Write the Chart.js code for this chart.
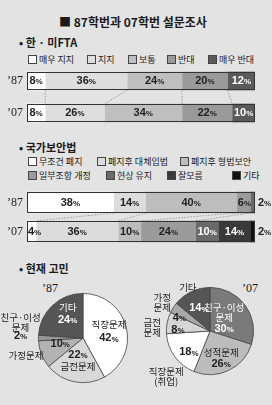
<!DOCTYPE html>
<html>
<head>
<meta charset="utf-8">
<script src="https://cdn.jsdelivr.net/npm/chart.js@4.4.0/dist/chart.umd.min.js"></script>
<style>
  body {
    margin: 0;
    width: 272px;
    height: 405px;
    background: #e3e3e3;
    font-family: "Noto Sans CJK KR", "Noto Sans", sans-serif;
    color: #1a1a1a;
    position: relative;
    overflow: hidden;
  }
  .txt { position: absolute; white-space: nowrap; }
  .title { font-size: 12px; line-height: 12px; font-weight: bold; }
  .head { font-size: 11px; line-height: 11px; font-weight: bold; }
  .yr { font-size: 12px; line-height: 12px; font-family: "Liberation Serif", serif; }
  .lg { position: absolute; font-size: 9px; line-height: 10px; white-space: nowrap; }
  .lg i { display: inline-block; width: 7px; height: 7px; border: 1px solid #444; margin-right: 2px; vertical-align: -1px; }
  .box { position: absolute; }
</style>
</head>
<body>
<div class="txt title" style="left:59px;top:16px;">■ 87학번과 07학번 설문조사</div>
<div class="txt head" style="left:19px;top:37px;">• 한 · 미FTA</div>
<div class="txt head" style="left:19px;top:142px;">• 국가보안법</div>
<div class="txt head" style="left:19px;top:263px;">• 현재 고민</div>
<div class="txt yr" style="left:42px;top:282px;">’87</div>
<div class="txt yr" style="left:242px;top:282px;">’07</div>
<div id="legends"></div>

<div class="box" style="left:0;top:65px;width:272px;height:64px;"><canvas id="ftaChart"></canvas></div>
<div class="box" style="left:0;top:188px;width:272px;height:58px;"><canvas id="nslChart"></canvas></div>
<div class="box" style="left:0;top:280px;width:136px;height:125px;"><canvas id="pie87"></canvas></div>
<div class="box" style="left:136px;top:280px;width:136px;height:125px;"><canvas id="pie07"></canvas></div>

<script>
// ---- data ----
const years = ['’87', '’07'];

const ftaCategories = ['매우 지지', '지지', '보통', '반대', '매우 반대'];
const fta87 = [8, 36, 24, 20, 12];
const fta07 = [8, 26, 34, 22, 10];

const nslCategories = ['무조건 폐지', '폐지후 대체입법', '폐지후 형법보안', '일부조항 개정', '현상 유지', '잘모름', '기타'];
const nsl87 = [38, 14, 40, 6, 2, 0, 0];
const nsl07 = [4, 36, 10, 24, 10, 14, 2];

const worryCats87 = ['직장문제', '금전문제', '가정문제', '친구·이성\n문제', '기타'];
const worry87 = [42, 22, 10, 2, 24];
const worryCats07 = ['친구·이성\n문제', '성적문제', '직장문제\n(취업)', '금전\n문제', '가정\n문제', '기타'];
const worry07 = [30, 26, 18, 8, 4, 14];

// ---- styles ----
const ftaColors = ['#ffffff', '#dedede', '#bfbfbf', '#9a9a9a', '#5a5a5a'];
const ftaText = ['#222', '#222', '#222', '#222', '#fff'];
const nslColors = ['#ffffff', '#dcdcdc', '#bdbdbd', '#9b9b9b', '#6a6a6a', '#3a3a3a', '#101010'];
const nslText = ['#222', '#222', '#222', '#222', '#fff', '#fff', '#fff'];
const pieColors87 = ['#ffffff', '#d9d9d9', '#b3b3b3', '#999999', '#555555'];
const pieColors07 = ['#7a7a7a', '#bcbcbc', '#ffffff', '#d6d6d6', '#a8a8a8', '#555555'];

const ftaLegendPos = [[28, 55], [87, 55], [128, 55], [167, 55], [208, 55]];
const nslLegendPos = [[28, 157], [97, 157], [180, 157], [28, 171], [106, 171], [167, 171], [232, 171]];

// HTML legends
const legendBox = document.getElementById('legends');
function addLegend(cats, colors, pos) {
    cats.forEach(function(c, i) {
        const d = document.createElement('div');
        d.className = 'lg';
        d.style.left = pos[i][0] + 'px';
        d.style.top = pos[i][1] + 'px';
        d.innerHTML = '<i style="background:' + colors[i] + '"></i>' + c;
        legendBox.appendChild(d);
    });
}
addLegend(ftaCategories, ftaColors, ftaLegendPos);
addLegend(nslCategories, nslColors, nslLegendPos);

const numFont = function(px) { return 'bold ' + px + 'px "Liberation Sans", Arial, sans-serif'; };

function pctWidth(ctx, v, big, small) {
    ctx.font = numFont(big);
    const w1 = ctx.measureText(String(v)).width;
    ctx.font = numFont(small);
    return w1 + ctx.measureText('%').width;
}

// number with a smaller % sign, centred on (cx, cy) or starting at cx
function drawPct(ctx, v, cx, cy, color, align, big, small) {
    const num = String(v);
    ctx.font = numFont(big);
    const w1 = ctx.measureText(num).width;
    const x = align === 'left' ? cx : cx - pctWidth(ctx, v, big, small) / 2;
    ctx.fillStyle = color;
    ctx.textBaseline = 'middle';
    ctx.textAlign = 'left';
    ctx.font = numFont(big);
    ctx.fillText(num, x, cy);
    ctx.font = numFont(small);
    ctx.fillText('%', x + w1, cy + 1);
}

// labels, outline and dotted connectors for the stacked bars
const barDecor = {
    id: 'barDecor',
    afterDatasetsDraw(chart, args, opts) {
        const ctx = chart.ctx;
        const xs = chart.scales.x;
        const metas = chart.data.datasets.map(function(d, i) { return chart.getDatasetMeta(i); });
        const n = metas.length;
        ctx.save();
        // connectors between boundaries
        ctx.strokeStyle = '#8c8c8c';
        ctx.lineWidth = 0.8;
        ctx.setLineDash([1.5, 1.5]);
        for (let i = 0; i < n - 1; i++) {
            const a = metas[i].data[0], b = metas[i].data[1];
            if (a.x >= xs.right - 0.5 || b.x >= xs.right - 0.5) continue;
            ctx.beginPath();
            ctx.moveTo(a.x, a.y + a.height / 2);
            ctx.lineTo(b.x, b.y - b.height / 2);
            ctx.stroke();
        }
        ctx.setLineDash([]);
        // outline round each bar
        ctx.strokeStyle = '#333';
        ctx.lineWidth = 1;
        metas[0].data.forEach(function(e) {
            ctx.strokeRect(xs.left + 0.5, e.y - e.height / 2 + 0.5, xs.right - xs.left - 1, e.height - 1);
        });
        // value labels
        metas.forEach(function(m, i) {
            m.data.forEach(function(e, j) {
                const v = chart.data.datasets[i].data[j];
                if (!v) return;
                const segW = Math.abs(e.x - e.base);
                if (v < 4) {
                    drawPct(ctx, v, xs.right + 3, e.y, '#222', 'left', 11, 8);
                } else if (segW < pctWidth(ctx, v, 11, 8) + 2) {
                    drawPct(ctx, v, Math.min(e.x, e.base) + 1, e.y, opts.textColors[i], 'left', 11, 8);
                } else {
                    drawPct(ctx, v, (e.x + e.base) / 2, e.y, opts.textColors[i], 'center', 11, 8);
                }
            });
        });
        ctx.restore();
    }
};

function stackedBar(id, cats, v87, v07, colors, textColors, thickness) {
    new Chart(document.getElementById(id).getContext('2d'), {
        type: 'bar',
        data: {
            labels: years,
            datasets: cats.map(function(c, i) {
                return {
                    label: c,
                    data: [v87[i], v07[i]],
                    backgroundColor: colors[i],
                    borderWidth: 0,
                    barThickness: thickness
                };
            })
        },
        options: {
            indexAxis: 'y',
            responsive: true,
            maintainAspectRatio: false,
            animation: false,
            layout: { padding: { left: 0, right: 17, top: 0, bottom: 0 } },
            plugins: {
                legend: { display: false },
                tooltip: { enabled: false },
                barDecor: { textColors: textColors }
            },
            scales: {
                x: { display: false, stacked: true, min: 0, max: 100 },
                y: {
                    stacked: true,
                    grid: { display: false, drawTicks: false },
                    border: { display: false },
                    ticks: {
                        padding: 4,
                        color: '#222',
                        font: { family: 'Liberation Serif', size: 12 }
                    },
                    // fixed axis width, and no extra room above/below the labels
                    afterFit: function(scale) {
                        scale.width = 27;
                        scale.paddingTop = 0;
                        scale.paddingBottom = 0;
                    }
                }
            }
        },
        plugins: [barDecor]
    });
}

stackedBar('ftaChart', ftaCategories, fta87, fta07, ftaColors, ftaText, 18);
stackedBar('nslChart', nslCategories, nsl87, nsl07, nslColors, nslText, 21);

// pie labels: each slice has a name and a value placement
// placement = [radius factor, dx, dy]
const pieDecor = {
    id: 'pieDecor',
    afterDatasetsDraw(chart, args, opts) {
        const ctx = chart.ctx;
        const meta = chart.getDatasetMeta(0);
        const values = chart.data.datasets[0].data;
        ctx.save();
        meta.data.forEach(function(arc, i) {
            const mid = (arc.startAngle + arc.endAngle) / 2;
            const r = arc.outerRadius;
            const st = opts.place[i];
            const color = opts.textColors[i];
            const np = st.name, vp = st.value;
            const nx = arc.x + Math.cos(mid) * r * np[0] + np[1];
            const ny = arc.y + Math.sin(mid) * r * np[0] + np[2];
            const lines = chart.data.labels[i].split('\n');
            ctx.font = '9.5px "Noto Sans CJK KR", sans-serif';
            ctx.textAlign = 'center';
            ctx.textBaseline = 'middle';
            ctx.fillStyle = st.nameOut ? '#222' : color;
            lines.forEach(function(l, k) {
                ctx.fillText(l, nx, ny + (k - (lines.length - 1) / 2) * 10);
            });
            const vx = arc.x + Math.cos(mid) * r * vp[0] + vp[1];
            const vy = arc.y + Math.sin(mid) * r * vp[0] + vp[2];
            drawPct(ctx, values[i], vx, vy, st.valueOut ? '#222' : color, 'center', 11, 8);
        });
        ctx.restore();
    }
};

function pie(id, cats, vals, colors, padding, place, textColors) {
    new Chart(document.getElementById(id).getContext('2d'), {
        type: 'pie',
        data: {
            labels: cats,
            datasets: [{
                data: vals,
                backgroundColor: colors,
                borderColor: '#444',
                borderWidth: 0.8
            }]
        },
        options: {
            responsive: true,
            maintainAspectRatio: false,
            animation: false,
            layout: { padding: padding },
            plugins: {
                legend: { display: false },
                tooltip: { enabled: false },
                pieDecor: { place: place, textColors: textColors }
            }
        },
        plugins: [pieDecor]
    });
}

pie('pie87', worryCats87, worry87, pieColors87,
    { left: 38, right: 8, top: 13, bottom: 22 },
    [
        { name: [0.6, 0, -7], value: [0.6, 0, 7] },
        { name: [0.6, 0, 2], value: [0.6, 0, -9] },
        { name: [1.3, -3, -4], value: [0.55, 0, -3], nameOut: true },
        { name: [1.4, 0, -16], value: [1.4, 0, -2], nameOut: true, valueOut: true },
        { name: [0.6, 3, -11], value: [0.6, 3, 1] }
    ],
    ['#222', '#222', '#222', '#222', '#fff']);

pie('pie07', worryCats07, worry07, pieColors07,
    { left: 30, right: 18, top: 7, bottom: 30 },
    [
        { name: [0.6, -7, -3], value: [0.6, -7, 13] },
        { name: [0.6, 0, -2], value: [0.6, 0, 9] },
        { name: [1.3, 2, 12], value: [0.6, 0, 6], nameOut: true },
        { name: [1.35, 0, 7], value: [0.75, 0, 5], nameOut: true },
        { name: [1.3, 0, 2], value: [0.75, -3, 4], nameOut: true },
        { name: [1.3, 2, 8], value: [0.6, 0, 1], nameOut: true }
    ],
    ['#fff', '#222', '#222', '#222', '#222', '#fff']);
</script>
</body>
</html>
